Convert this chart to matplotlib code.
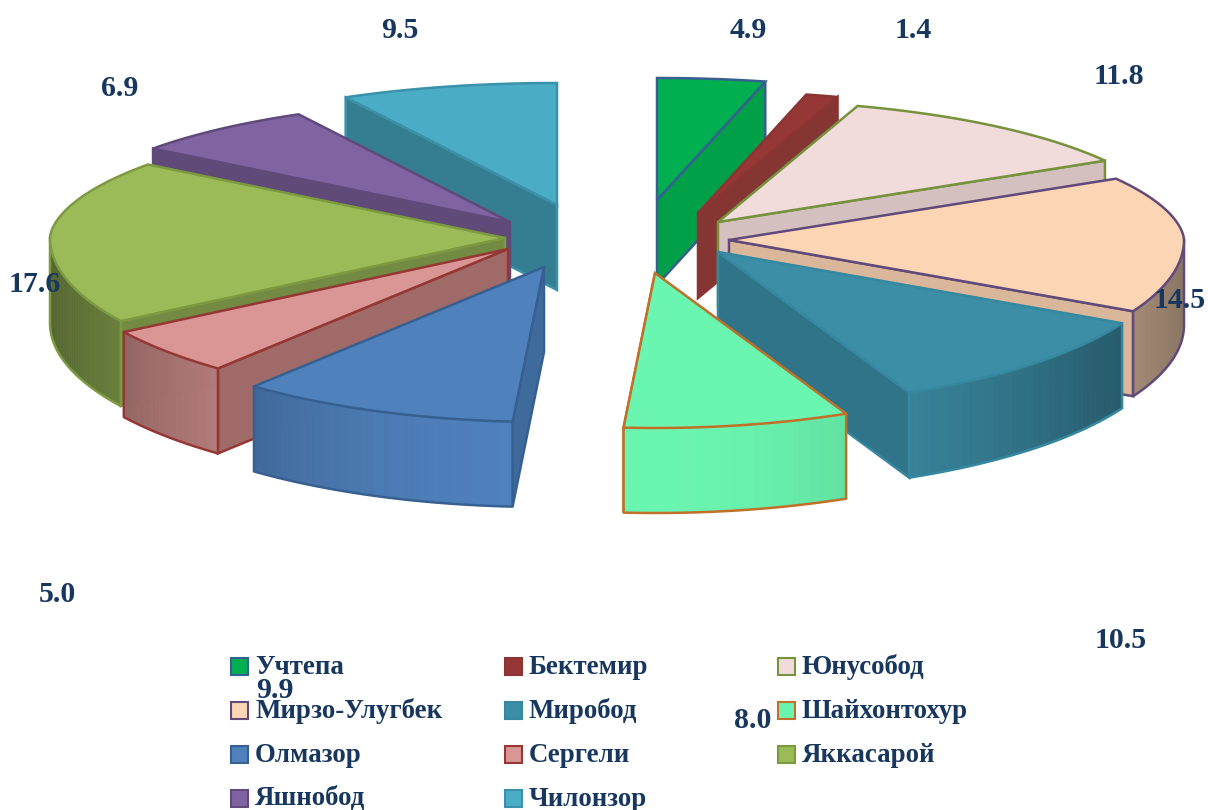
#!/usr/bin/env python
# -*- coding: utf-8 -*-
import numpy as np
import matplotlib
matplotlib.use('Agg')
import matplotlib.pyplot as plt
from matplotlib.colors import to_rgb
from matplotlib.patches import Rectangle

###############################################################################
# Data
###############################################################################
districts = [
    'Учтепа', 'Бектемир', 'Юнусобод', 'Мирзо-Улугбек', 'Миробод',
    'Шайхонтохур', 'Олмазор', 'Сергели', 'Яккасарой', 'Яшнобод', 'Чилонзор'
]
values = [4.9, 1.4, 11.8, 14.5, 10.5, 8.0, 9.9, 5.0, 17.6, 6.9, 9.5]
labels = ['4.9', '1.4', '11.8', '14.5', '10.5', '8.0', '9.9', '5.0', '17.6', '6.9', '9.5']
###############################################################################
# Styles
###############################################################################
topColors = [
    '#00B050', '#953735', '#F2DCDB', '#FCD5B5', '#3C8DA6', '#6AF5B0',
    '#4F81BD', '#D99694', '#9BBB59', '#8064A2', '#4BACC6'
]
sideColors = [
    '#00A049', '#853532', '#D4C0BF', '#DAB79A', '#2F7488', '#5CD6A0',
    '#3F6A9C', '#A06A69', '#738A42', '#5F4A78', '#357E92'
]
edgeColors = [
    '#35608F', '#8A3533', '#76923C', '#604A7B', '#35889F', '#C07028',
    '#366092', '#953735', '#7C9A40', '#604A7B', '#3A92AA'
]
# How far each slice is pulled out of the pie, like explode in ax.pie
explodeX = [47, 88, 108, 119, 108, 45, -66, -102, -105, -100, -53]
explodeY = [-38, -25, -16, 2, 14, 35, 29, 11, 0, -16, -33]
labelPos = [
    (748, 31), (913, 31), (1119, 76), (1180, 301), (1121, 641), (753, 721),
    (275, 690), (57, 594), (35, 285), (120, 88), (400, 31)
]
navy = '#17375E'
(cx, cy, depth) = (610, 238, 85)
drawOrder = [0, 1, 2, 3, 4, 10, 9, 8, 7, 6, 5]
###############################################################################
# Projection of the tilted disc (angle clockwise from the top, degrees)
###############################################################################
def rim(theta):
    t = np.radians(theta)
    back = np.clip(np.cos(t), 0, None)**1.5
    return ((455-105*back)*np.sin(t), -(155-33*back)*np.cos(t))

def shaded(color, theta):
    f = 1-.45*np.sin(np.radians(theta))**2
    return tuple(f*np.array(to_rgb(color)))
###############################################################################
# Plot
###############################################################################
(fig, ax) = plt.subplots(figsize=(12.08, 8.10), dpi=100)
fig.subplots_adjust(0, 0, 1, 1)
ax.set_xlim(0, 1208)
ax.set_ylim(810, 0)
ax.axis('off')
ends = np.cumsum(values)/np.sum(values)*360
starts = np.concatenate(([0], ends[:-1]))
for (z, i) in enumerate(drawOrder):
    (a0, a1) = (starts[i], ends[i])
    mid = (a0+a1)/2
    (ax0, ay0) = (cx+explodeX[i], cy+explodeY[i])
    (top, side, edge) = (topColors[i], sideColors[i], edgeColors[i])
    zo = 2+z
    # Radial wall -------------------------------------------------------------
    edgeAngle = a1 if mid < 180 else a0
    (ex, ey) = rim(edgeAngle)
    ax.fill(
        [ax0, ax0+ex, ax0+ex, ax0], [ay0, ay0+ey, ay0+ey+depth, ay0+depth],
        facecolor=side, edgecolor=edge, lw=1.8, zorder=zo, joinstyle='miter'
    )
    # Outer wall with a horizontal gradient -----------------------------------
    (w0, w1) = (max(a0, 90), min(a1, 270))
    if w1 > w0:
        th = np.linspace(w0, w1, 41)
        (rx, ry) = rim(th)
        for k in range(len(th)-1):
            ax.fill(
                ax0+rx[[k, k+1, k+1, k]],
                ay0+ry[[k, k+1, k+1, k]]+np.array([0, 0, depth, depth]),
                color=shaded(top, th[k]), lw=.6, zorder=zo
            )
        ax.plot(
            ax0+np.concatenate((rx[:1], rx, rx[-1:])),
            ay0+np.concatenate((ry[:1], ry+depth, ry[-1:])),
            color=edge, lw=1.8, zorder=zo
        )
    # Top face ----------------------------------------------------------------
    th = np.linspace(a0, a1, 80)
    (rx, ry) = rim(th)
    ax.fill(
        np.concatenate(([ax0], ax0+rx)), np.concatenate(([ay0], ay0+ry)),
        facecolor=top, edgecolor=edge, lw=1.8, zorder=zo, joinstyle='miter'
    )
# Value labels ----------------------------------------------------------------
for (lab, (x, y)) in zip(labels, labelPos):
    ax.text(
        x, y, lab, ha='center', va='center', color=navy, fontsize=21.5,
        family='Liberation Serif', weight='bold', zorder=50
    )
# Legend, row by row ----------------------------------------------------------
for (i, name) in enumerate(districts):
    (row, col) = (i//3, i % 3)
    (x, y) = (231+273.5*col, 666+44*row)
    ax.add_patch(Rectangle(
        (x, y-8.5), 17, 17, facecolor=topColors[i], edgecolor=edgeColors[i],
        lw=1.5, zorder=40
    ))
    ax.text(
        x+24, y+1, name, ha='left', va='center', color=navy, fontsize=19.4,
        family='Liberation Serif', weight='bold', zorder=40
    )
plt.savefig('out.png', dpi=100)
